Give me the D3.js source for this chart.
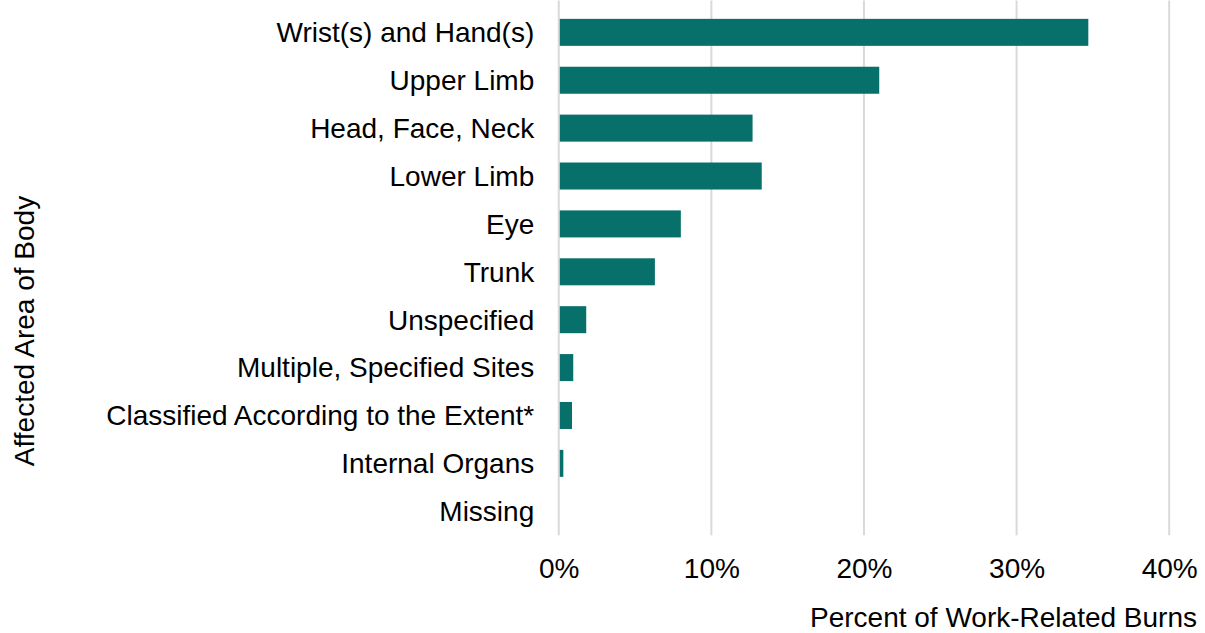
<!DOCTYPE html>
<html>
<head>
<meta charset="utf-8">
<script src="https://cdn.jsdelivr.net/npm/d3@7"></script>
<style>
  html, body { margin: 0; padding: 0; background: #ffffff; }
  svg { display: block; }
  text { font-family: "Liberation Sans", Arial, sans-serif; fill: #000; }
</style>
</head>
<body>
<svg id="chart" width="1205" height="633"></svg>
<script>
// Body areas affected in work-related burns, share of all cases
const categories = [
  "Wrist(s) and Hand(s)",
  "Upper Limb",
  "Head, Face, Neck",
  "Lower Limb",
  "Eye",
  "Trunk",
  "Unspecified",
  "Multiple, Specified Sites",
  "Classified According to the Extent*",
  "Internal Organs",
  "Missing"
];
const percentValues = [34.7, 21.0, 12.7, 13.3, 8.0, 6.3, 1.8, 0.95, 0.87, 0.3, 0];
const xTicks = [0, 10, 20, 30, 40];
const xTitle = "Percent of Work-Related Burns";
const yTitle = "Affected Area of Body";

const svg = d3.select("#chart");
const fontSize = 28;
const barColor = "#08706a";
const gridColor = "#d9d9d9";

const plot = { left: 558.75, right: 1169.2, top: 8.4, bottom: 535.2 };

const x = d3.scaleLinear().domain([0, 40]).range([plot.left, plot.right]);
const y = d3.scaleBand()
  .domain(categories)
  .range([plot.top, plot.bottom])
  .paddingInner(0.436)
  .paddingOuter(0.218);

// Vertical gridlines
svg.append("g")
  .selectAll("line")
  .data(xTicks)
  .join("line")
  .attr("x1", d => x(d)).attr("x2", d => x(d))
  .attr("y1", plot.top - 8).attr("y2", plot.bottom)
  .attr("stroke", gridColor)
  .attr("stroke-width", 2);

// Bars
svg.append("g")
  .selectAll("rect")
  .data(categories.map((c, i) => ({ c, v: percentValues[i] })))
  .join("rect")
  .attr("x", x(0) + 1)
  .attr("y", d => y(d.c))
  .attr("width", d => Math.max(0, x(d.v) - x(0) - 1))
  .attr("height", y.bandwidth())
  .attr("fill", barColor);

// Category labels
const yAxis = d3.axisLeft(y).tickSize(0).tickPadding(0);
const gy = svg.append("g")
  .attr("transform", `translate(${plot.left - 24.5},0)`)
  .call(yAxis);
gy.select(".domain").remove();
gy.selectAll("text")
  .style("font-family", '"Liberation Sans", Arial, sans-serif')
  .style("font-size", fontSize + "px")
  .attr("fill", "#000")
  .attr("dy", "0.35em");

// Percent tick labels
const xAxis = d3.axisBottom(x).tickValues(xTicks).tickFormat(d => d + "%").tickSize(0).tickPadding(0);
const gx = svg.append("g")
  .attr("transform", `translate(0,578)`)
  .call(xAxis);
gx.select(".domain").remove();
gx.selectAll("text")
  .style("font-family", '"Liberation Sans", Arial, sans-serif')
  .style("font-size", fontSize + "px")
  .attr("fill", "#000")
  .attr("dy", 0)
  .attr("y", 0);

// Axis titles
svg.append("text")
  .attr("x", 1197)
  .attr("y", 627)
  .attr("text-anchor", "end")
  .style("font-size", fontSize + "px")
  .text(xTitle);

svg.append("text")
  .attr("transform", `translate(34,331) rotate(-90)`)
  .attr("text-anchor", "middle")
  .style("font-size", fontSize + "px")
  .text(yTitle);
</script>
</body>
</html>
